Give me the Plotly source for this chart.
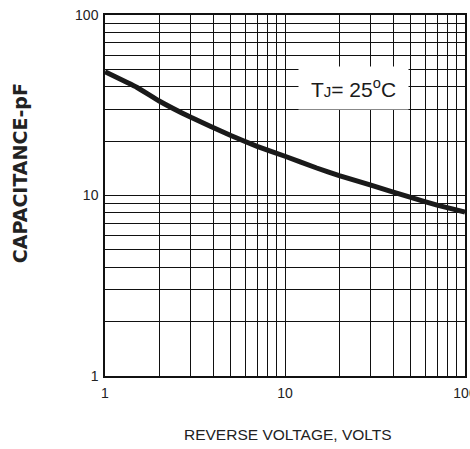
import plotly.graph_objects as go

# Data (log-log)
voltage = [1, 1.5, 2, 3, 5, 7, 10, 15, 20, 30, 50, 70, 100]
capacitance = [48.5, 39.8, 33.4, 27.1, 21.5, 18.7, 16.5, 14.2, 12.9, 11.4, 9.75, 8.85, 8.1]

grid_vals = [1, 2, 3, 4, 5, 6, 7, 8, 9, 10, 20, 30, 40, 50, 60, 70, 80, 90, 100]
x_tick_labels = {1: "1", 10: "10", 100: "100"}
y_tick_labels = {1: "1", 10: "10", 100: "100"}

x_title = "REVERSE VOLTAGE, VOLTS"
y_title = "CAPACITANCE-pF"
note = "T<span style='font-size:15px'>J</span>= 25<sup>o</sup>C"

fig = go.Figure()
fig.add_trace(go.Scatter(
    x=voltage, y=capacitance, mode="lines",
    line=dict(color="#1a1a1a", width=5, shape="spline", smoothing=0.3),
    showlegend=False, hoverinfo="skip",
))

axis_common = dict(
    type="log",
    showgrid=True, gridcolor="#111111", gridwidth=1,
    showline=True, linecolor="#111111", linewidth=1.5, mirror=True,
    zeroline=False, ticks="",
    tickfont=dict(family="Liberation Sans, Arial, sans-serif", size=14, color="#222222"),
    tickvals=grid_vals,
    ticklabeloverflow="allow",
    automargin=False,
)

fig.update_xaxes(
    **axis_common,
    range=[0, 2],
    ticktext=[x_tick_labels.get(v, "") for v in grid_vals],
    ticklabelstandoff=3,
)
fig.update_yaxes(
    **axis_common,
    range=[0, 2],
    ticktext=[y_tick_labels.get(v, "") for v in grid_vals],
    ticklabelstandoff=2,
)

fig.add_annotation(
    xref="paper", yref="paper", x=0.69, y=0.798,
    text=note, showarrow=False,
    font=dict(family="Liberation Sans, Arial, sans-serif", size=21, color="#1a1a1a"),
    bgcolor="white", width=109, height=42, borderpad=0,
    xanchor="center", yanchor="middle",
)
fig.add_annotation(
    xref="paper", yref="paper", x=0.508, y=-0.163,
    text=x_title, showarrow=False,
    font=dict(family="Liberation Sans, Arial, sans-serif", size=15.5, color="#222222"),
    xanchor="center", yanchor="middle",
)
fig.add_annotation(
    xref="paper", yref="paper", x=-0.236, y=0.562,
    text="<b>" + y_title + "</b>", showarrow=False, textangle=-90,
    font=dict(family="DejaVu Sans, sans-serif", size=19, color="#222222"),
    xanchor="center", yanchor="middle",
)

fig.update_layout(
    width=470, height=449,
    margin=dict(l=105, r=5, t=15, b=73),
    paper_bgcolor="white", plot_bgcolor="white",
)

fig.write_html("out.html")
